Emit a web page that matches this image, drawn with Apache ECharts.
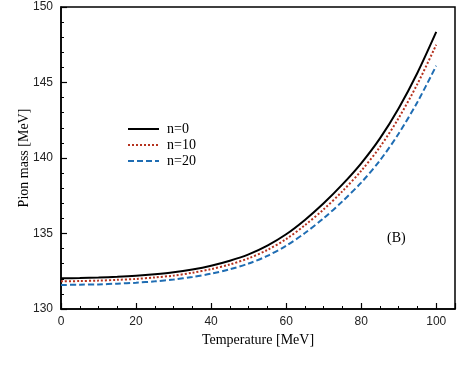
<!DOCTYPE html>
<html>
<head>
<meta charset="utf-8">
<script src="https://cdn.jsdelivr.net/npm/echarts@6/dist/echarts.min.js"></script>
<style>
  html, body { margin: 0; padding: 0; background: #fff; }
  #chart { width: 463px; height: 371px; }
</style>
</head>
<body>
<div id="chart"></div>
<script>
// temperature grid [MeV]
const temps = [0, 5, 10, 15, 20, 25, 30, 35, 40, 45, 50, 55, 60, 65, 70, 75, 80, 85, 90, 95, 100];

// pion mass [MeV] for each n
const massN0 = [132.03, 132.05, 132.08, 132.13, 132.2, 132.3, 132.43, 132.62, 132.87, 133.2, 133.62,
  134.2, 134.95, 135.9, 137.0, 138.25, 139.65, 141.3, 143.3, 145.65, 148.35];
const massN10 = [131.83, 131.85, 131.88, 131.93, 131.99, 132.09, 132.21, 132.4, 132.64, 132.95, 133.36,
  133.91, 134.63, 135.55, 136.6, 137.8, 139.15, 140.73, 142.65, 144.91, 147.5];
const massN20 = [131.59, 131.61, 131.63, 131.68, 131.74, 131.83, 131.95, 132.12, 132.34, 132.63, 133.01,
  133.52, 134.19, 135.03, 136.01, 137.13, 138.37, 139.84, 141.62, 143.71, 146.11];

const seriesNames = ['n=0', 'n=10', 'n=20'];

function pairs(ys) {
  return temps.map((t, i) => [t, ys[i]]);
}

const serif = '"Liberation Serif", "DejaVu Serif", serif';
const sans = '"Liberation Sans", Arial, sans-serif';

const chart = echarts.init(document.getElementById('chart'));

const option = {
  animation: false,
  backgroundColor: '#fff',
  grid: {
    left: 61, right: 8, top: 7, bottom: 62,
    show: true, borderColor: '#000', borderWidth: 1.5,
    containLabel: false
  },
  legend: {
    orient: 'vertical',
    left: 122, top: 117,
    itemWidth: 31, itemHeight: 10, itemGap: 2,
    itemStyle: { opacity: 0, borderWidth: 0 },
    textStyle: { fontFamily: serif, fontSize: 14, color: '#000', padding: [0, 0, 0, 3] },
    data: seriesNames
  },
  xAxis: {
    type: 'value', min: 0, max: 105, interval: 20,
    name: 'Temperature [MeV]', nameLocation: 'middle', nameGap: 24, nameMoveOverlap: false,
    nameTextStyle: { fontFamily: serif, fontSize: 14, color: '#000' },
    axisLine: { lineStyle: { color: '#000', width: 1.5 } },
    axisTick: { inside: true, length: 6, lineStyle: { color: '#000', width: 1.2 } },
    minorTick: { show: true, splitNumber: 4, length: 3, lineStyle: { color: '#000', width: 1 } },
    axisLabel: { fontFamily: sans, fontSize: 12, color: '#222', margin: 7, showMaxLabel: false },
    splitLine: { show: false }
  },
  yAxis: {
    type: 'value', min: 130, max: 150, interval: 5,
    name: 'Pion mass [MeV]', nameLocation: 'middle', nameGap: 30, nameMoveOverlap: false,
    nameTextStyle: { fontFamily: serif, fontSize: 14, color: '#000' },
    axisLine: { lineStyle: { color: '#000', width: 1.5 } },
    axisTick: { inside: true, length: 6, lineStyle: { color: '#000', width: 1.2 } },
    minorTick: { show: true, splitNumber: 5, length: 3, lineStyle: { color: '#000', width: 1 } },
    axisLabel: { fontFamily: sans, fontSize: 12, color: '#222', margin: 8 },
    splitLine: { show: false }
  },
  graphic: [{
    type: 'text', left: 387, top: 231,
    style: { text: '(B)', fontFamily: serif, fontSize: 14, fill: '#000' }
  }],
  series: [
    {
      name: seriesNames[0], type: 'line', smooth: 0.3, symbol: 'none',
      data: pairs(massN0),
      lineStyle: { color: '#000', width: 2, type: 'solid' },
      itemStyle: { color: '#000' }
    },
    {
      name: seriesNames[1], type: 'line', smooth: 0.3, symbol: 'none',
      data: pairs(massN10),
      lineStyle: { color: '#b5321e', width: 2, type: [2, 2] },
      itemStyle: { color: '#b5321e' }
    },
    {
      name: seriesNames[2], type: 'line', smooth: 0.3, symbol: 'none',
      data: pairs(massN20),
      lineStyle: { color: '#1f6db3', width: 2, type: [6, 3] },
      itemStyle: { color: '#1f6db3' }
    }
  ]
};

chart.setOption(option);
</script>
</body>
</html>
